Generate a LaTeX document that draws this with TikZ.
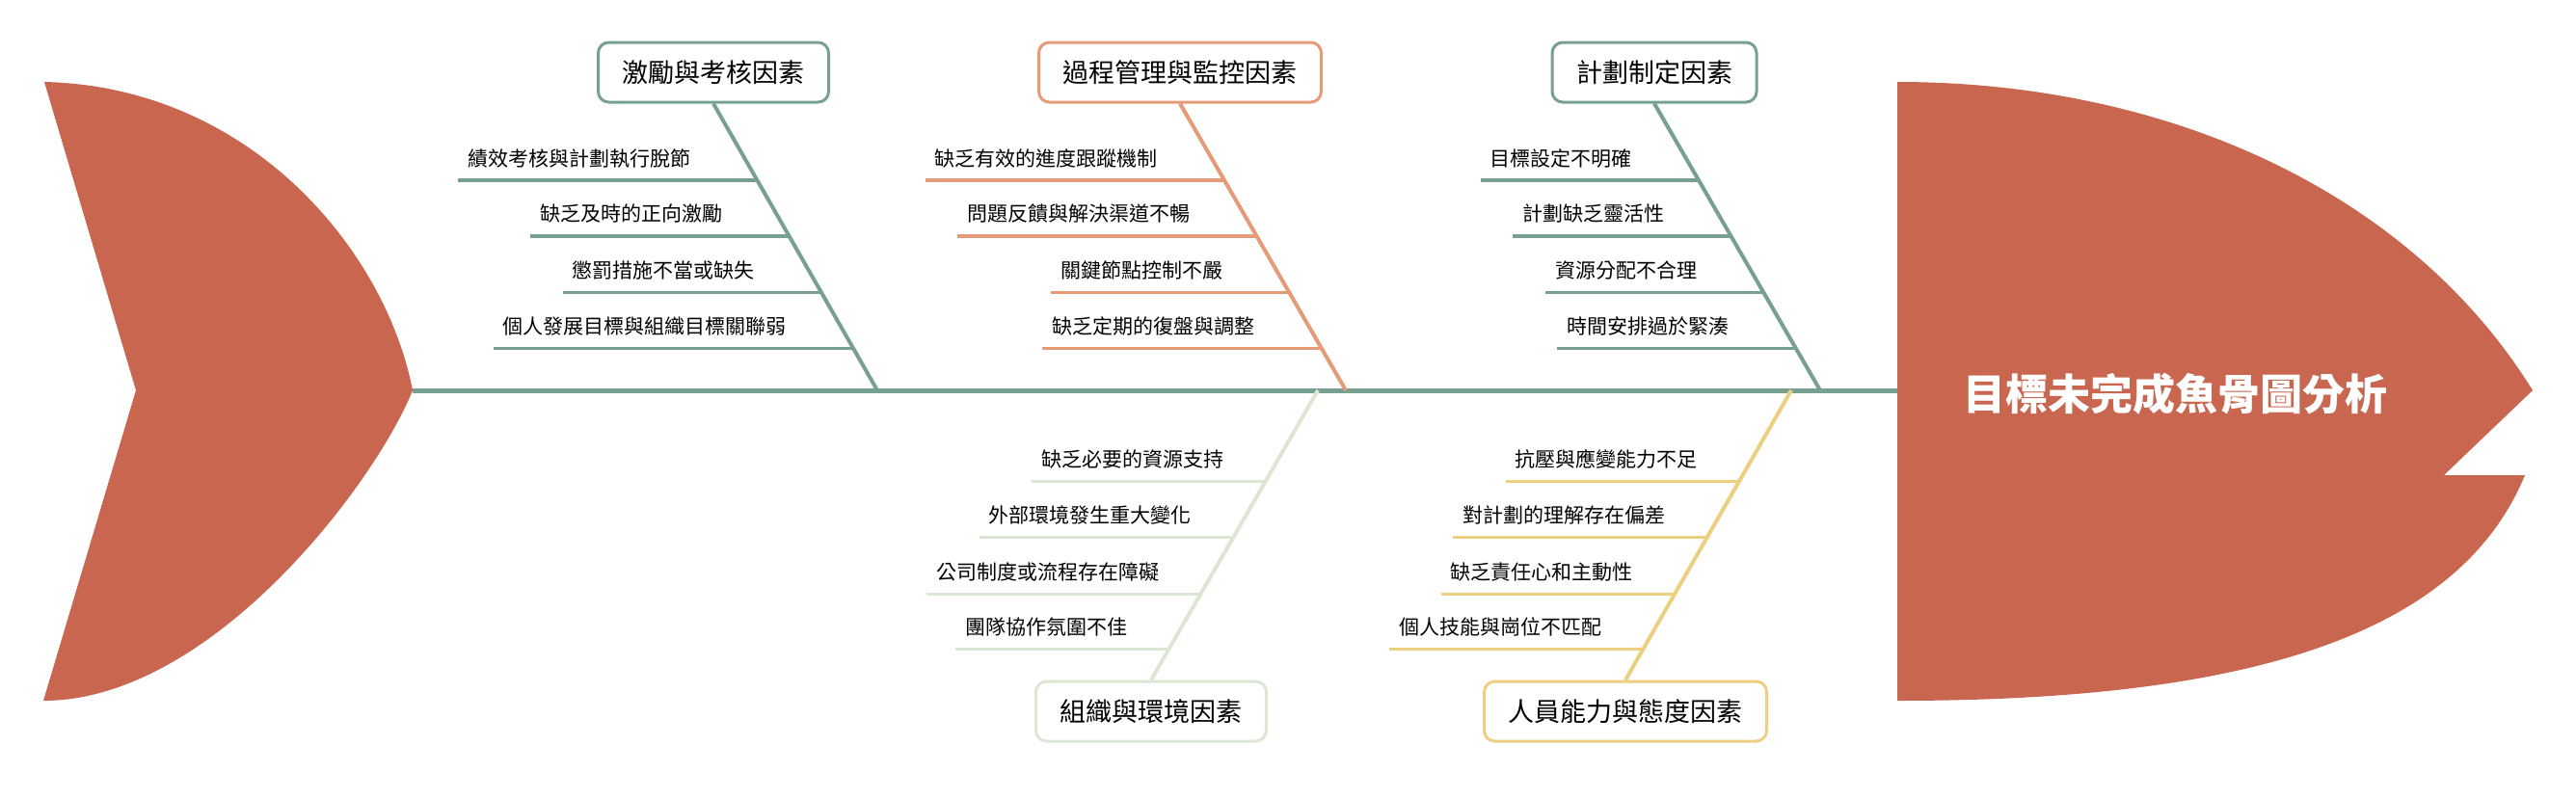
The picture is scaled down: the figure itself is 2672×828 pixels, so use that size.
\documentclass[tikz,border=0pt]{standalone}
\usepackage{fontspec}
\setmainfont{Noto Sans CJK TC}
\usetikzlibrary{calc}
\definecolor{fishred}{HTML}{C8664F}
\definecolor{bgreen}{HTML}{78A091}
\definecolor{borange}{HTML}{E59B77}
\definecolor{blgreen}{HTML}{DCE6D4}
\definecolor{byellow}{HTML}{EDD07F}
\begin{document}
\begin{tikzpicture}[x=1pt,y=1pt,
  catbox/.style={draw,line width=3pt,rounded corners=11pt,fill=white,minimum height=62pt,inner xsep=25pt,font=\fontsize{27}{32}\selectfont},
  causetext/.style={font=\fontsize{21}{25}\selectfont,inner xsep=10pt,inner ysep=0pt,anchor=east},
  bone/.style={line width=4pt},
  subbone/.style={line width=3.5pt},
]
\useasboundingbox (0,0) rectangle (2672,-828);
% tail
\fill[fishred] (46,-85) .. controls (260,-90) and (400,-260) .. (428,-405) .. controls (390,-500) and (220,-727) .. (45,-727) -- (141,-405) -- cycle;
\coordinate (tailtip) at (428,-405);
% head
\fill[fishred] (1968,-85) .. controls (2250,-85) and (2500,-200) .. (2627,-405) -- (2535,-493) -- (2619,-493) .. controls (2550,-660) and (2330,-727) .. (1968,-727) -- cycle;
\coordinate (headleft) at (1968,-405);
\node[text=white,font=\fontsize{44}{50}\selectfont\bfseries] (title) at (2256,-409) {目標未完成魚骨圖分析};
% spine
\draw[bgreen,line width=5pt] (tailtip) -- (headleft);

% top bone 1
\node[catbox,draw=bgreen] (c1) at (740,-75) {激勵與考核因素};
\coordinate (s1) at (910,-405);
\draw[bone,bgreen] (c1.south) -- (s1);
\foreach \f/\txt [count=\i] in {0.268/績效考核與計劃執行脫節,0.462/缺乏及時的正向激勵,0.659/懲罰措施不當或缺失,0.853/個人發展目標與組織目標關聯弱}{
  \coordinate (c1p\i) at ($(c1.south)!\f!(s1)$);
  \node[causetext] (c1t\i) at ([shift={(-59,23)}]c1p\i) {\txt};
  \draw[subbone,bgreen] (c1t\i.west |- c1p\i) -- (c1p\i);
}
% top bone 2
\node[catbox,draw=borange] (c2) at (1224,-75) {過程管理與監控因素};
\coordinate (s2) at (1396,-405);
\draw[bone,borange] (c2.south) -- (s2);
\foreach \f/\txt [count=\i] in {0.268/缺乏有效的進度跟蹤機制,0.462/問題反饋與解決渠道不暢,0.659/關鍵節點控制不嚴,0.853/缺乏定期的復盤與調整}{
  \coordinate (c2p\i) at ($(c2.south)!\f!(s2)$);
  \node[causetext] (c2t\i) at ([shift={(-59,23)}]c2p\i) {\txt};
  \draw[subbone,borange] (c2t\i.west |- c2p\i) -- (c2p\i);
}
% top bone 3
\node[catbox,draw=bgreen] (c3) at (1716,-75) {計劃制定因素};
\coordinate (s3) at (1888,-405);
\draw[bone,bgreen] (c3.south) -- (s3);
\foreach \f/\txt [count=\i] in {0.268/目標設定不明確,0.462/計劃缺乏靈活性,0.659/資源分配不合理,0.853/時間安排過於緊湊}{
  \coordinate (c3p\i) at ($(c3.south)!\f!(s3)$);
  \node[causetext] (c3t\i) at ([shift={(-59,23)}]c3p\i) {\txt};
  \draw[subbone,bgreen] (c3t\i.west |- c3p\i) -- (c3p\i);
}
% bottom bone 4
\node[catbox,draw=blgreen] (c4) at (1194,-738) {組織與環境因素};
\coordinate (s4) at (1367,-405);
\draw[bone,blgreen] (c4.north) -- (s4);
\foreach \f/\txt [count=\i] in {0.686/缺乏必要的資源支持,0.492/外部環境發生重大變化,0.297/公司制度或流程存在障礙,0.106/團隊協作氛圍不佳}{
  \coordinate (c4p\i) at ($(c4.north)!\f!(s4)$);
  \node[causetext] (c4t\i) at ([shift={(-33,23)}]c4p\i) {\txt};
  \draw[subbone,blgreen] (c4t\i.west |- c4p\i) -- (c4p\i);
}
% bottom bone 5
\node[catbox,draw=byellow] (c5) at (1686,-738) {人員能力與態度因素};
\coordinate (s5) at (1858,-405);
\draw[bone,byellow] (c5.north) -- (s5);
\foreach \f/\txt [count=\i] in {0.686/抗壓與應變能力不足,0.492/對計劃的理解存在偏差,0.297/缺乏責任心和主動性,0.106/個人技能與崗位不匹配}{
  \coordinate (c5p\i) at ($(c5.north)!\f!(s5)$);
  \node[causetext] (c5t\i) at ([shift={(-33,23)}]c5p\i) {\txt};
  \draw[subbone,byellow] (c5t\i.west |- c5p\i) -- (c5p\i);
}
\end{tikzpicture}
\end{document}
